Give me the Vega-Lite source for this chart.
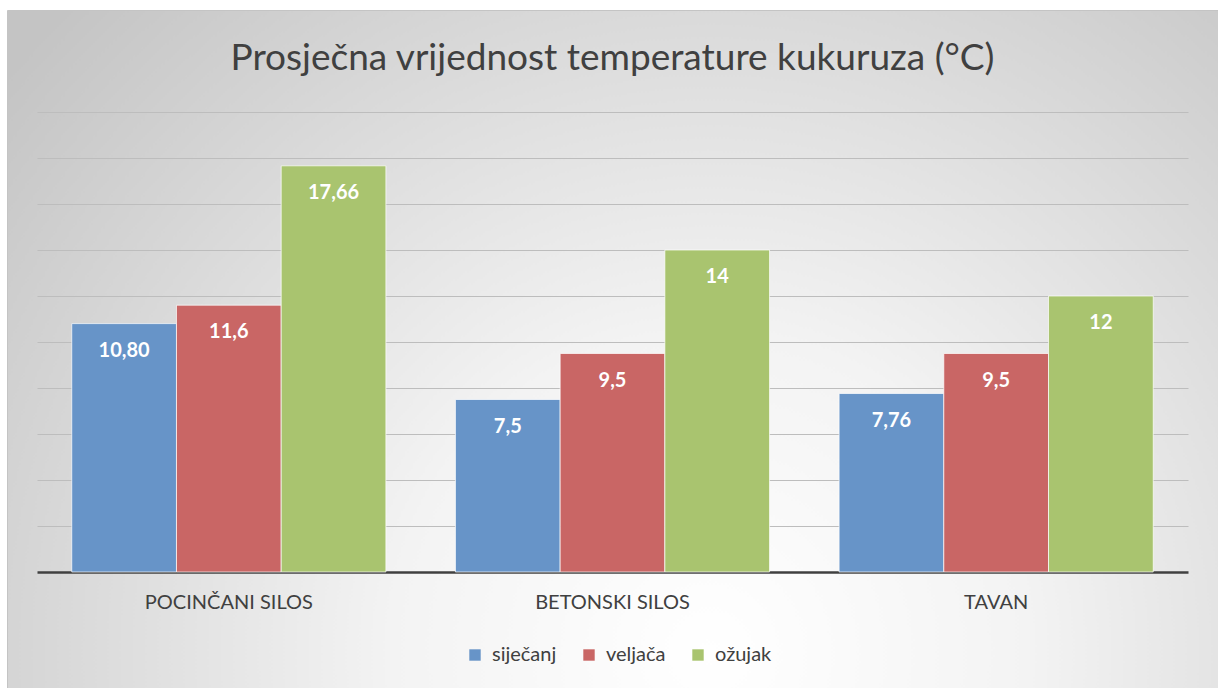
{
  "$schema": "https://vega.github.io/schema/vega-lite/v6.json",
  "autosize": "none",
  "padding": {"left": 7, "top": 10, "right": 0, "bottom": 0},
  "width": 1211,
  "height": 678,
  "background": "#ffffff",
  "title": {
    "text": "Prosječna vrijednost temperature kukuruza (°C)",
    "font": "Lato",
    "fontSize": 37,
    "fontWeight": "normal",
    "color": "#404040",
    "anchor": "middle",
    "frame": "group",
    "baseline": "alphabetic",
    "offset": -97
  },
  "config": {
    "view": {
      "stroke": "#c4c4c4",
      "strokeWidth": 1,
      "fill": {
        "gradient": "radial",
        "x1": 0.58, "y1": 0.75, "r1": 0,
        "x2": 0.58, "y2": 0.75, "r2": 0.75,
        "stops": [
          {"offset": 0, "color": "#ffffff"},
          {"offset": 0.35, "color": "#f3f3f3"},
          {"offset": 1, "color": "#c4c4c4"}
        ]
      }
    },
    "font": "Lato"
  },
  "data": {
    "values": [
      {"mjesto": "POCINČANI SILOS", "mjesec": "siječanj", "temp": 10.80, "label": "10,80"},
      {"mjesto": "POCINČANI SILOS", "mjesec": "veljača", "temp": 11.6, "label": "11,6"},
      {"mjesto": "POCINČANI SILOS", "mjesec": "ožujak", "temp": 17.66, "label": "17,66"},
      {"mjesto": "BETONSKI SILOS", "mjesec": "siječanj", "temp": 7.5, "label": "7,5"},
      {"mjesto": "BETONSKI SILOS", "mjesec": "veljača", "temp": 9.5, "label": "9,5"},
      {"mjesto": "BETONSKI SILOS", "mjesec": "ožujak", "temp": 14, "label": "14"},
      {"mjesto": "TAVAN", "mjesec": "siječanj", "temp": 7.76, "label": "7,76"},
      {"mjesto": "TAVAN", "mjesec": "veljača", "temp": 9.5, "label": "9,5"},
      {"mjesto": "TAVAN", "mjesec": "ožujak", "temp": 12, "label": "12"}
    ]
  },
  "encoding": {
    "x": {
      "field": "mjesto",
      "type": "nominal",
      "sort": null,
      "scale": {"range": [30, 1181], "paddingInner": 0, "paddingOuter": 0},
      "axis": {
        "title": null,
        "orient": "bottom",
        "offset": -116,
        "labelAngle": 0,
        "ticks": false,
        "domainColor": "#404040",
        "domainWidth": 2.5,
        "labelFont": "Lato",
        "labelFontSize": 20,
        "labelColor": "#404040",
        "labelPadding": 20,
        "labelBaseline": "top",
        "grid": false
      }
    },
    "xOffset": {
      "field": "mjesec",
      "type": "nominal",
      "scale": {"domain": ["siječanj", "veljača", "ožujak"], "paddingInner": 0, "paddingOuter": 0.332}
    },
    "y": {
      "field": "temp",
      "type": "quantitative",
      "scale": {"domain": [0, 20], "range": [562, 102], "nice": false, "zero": true},
      "axis": {
        "title": null,
        "labels": false,
        "ticks": false,
        "domain": false,
        "values": [2, 4, 6, 8, 10, 12, 14, 16, 18, 20],
        "grid": true,
        "gridColor": "#bdbdbd",
        "gridWidth": 1
      }
    }
  },
  "layer": [
    {
      "mark": {"type": "bar", "stroke": "#ffffff", "strokeWidth": 1, "strokeOpacity": 0.7},
      "encoding": {
        "color": {
          "field": "mjesec",
          "type": "nominal",
          "scale": {"domain": ["siječanj", "veljača", "ožujak"], "range": ["#6794c8", "#c96665", "#a9c46f"]},
          "legend": {
            "title": null,
            "orient": "none",
            "direction": "horizontal",
            "legendX": 458,
            "legendY": 635,
            "symbolType": "square",
            "symbolSize": 130,
            "symbolStrokeWidth": 0,
            "labelFont": "Lato",
            "labelFontSize": 20,
            "labelColor": "#404040",
            "labelOffset": 7,
            "columnPadding": 22
          }
        }
      }
    },
    {
      "mark": {"type": "text", "baseline": "middle", "dy": 27, "color": "#ffffff", "fontWeight": "bold", "fontSize": 20, "font": "Lato"},
      "encoding": {
        "text": {"field": "label", "type": "nominal"}
      }
    }
  ]
}
